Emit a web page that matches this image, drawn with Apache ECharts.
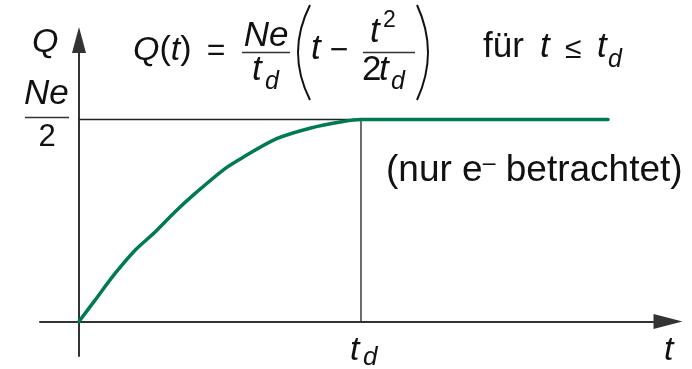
<!DOCTYPE html>
<html>
<head>
<meta charset="utf-8">
<title>Q(t)</title>
<script src="https://cdn.jsdelivr.net/npm/echarts@6/dist/echarts.min.js"></script>
<style>
  html, body { margin: 0; padding: 0; background: #fff; }
  #chart { width: 692px; height: 369px; }
</style>
</head>
<body>
<div id="chart"></div>
<script>
// Q(t) in units of Ne/2, t in units of t_d
const tValues = [0, 0.057, 0.128, 0.199, 0.270, 0.340, 0.411, 0.518, 0.583, 0.701, 0.819, 0.937, 1, 1.876];
const qValues = [0, 0.106, 0.238, 0.353, 0.443, 0.542, 0.633, 0.757, 0.814, 0.905, 0.957, 0.990, 1, 1];
// guide lines: Ne/2 level to t_d, then down to the t axis
const guideT = [0, 1, 1];
const guideQ = [1, 1, 0];

const FONT = '"Liberation Sans", Arial, sans-serif';
const INK = "#111";

// y is the baseline; zrender "middle" sits ~0.35em above it
function txt(x, base, text, size, italic, align = "left") {
  return {
    type: "text", x, y: base - 0.35 * size, silent: true,
    style: {
      text, fill: INK, textAlign: align, textVerticalAlign: "middle",
      font: (italic ? "italic " : "") + size + "px " + FONT,
    },
  };
}
function bar(x1, x2, y, w = 1.5) {
  return { type: "line", silent: true, shape: { x1, y1: y, x2, y2: y }, style: { stroke: "#333", lineWidth: w } };
}
function paren(x, cx) {
  return {
    type: "bezierCurve", silent: true,
    shape: { x1: x, y1: 5, x2: x, y2: 100, cpx1: cx, cpy1: 52.5 },
    style: { stroke: INK, lineWidth: 2, fill: null },
  };
}

const chart = echarts.init(document.getElementById("chart"), null, { renderer: "canvas" });

chart.setOption({
  animation: false,
  backgroundColor: "#fff",
  grid: { left: 40, right: 24, top: 40, bottom: 13 },
  xAxis: {
    type: "value", min: -0.1383, max: 2.0887,
    axisLine: { onZero: true, symbol: ["none", "triangle"], symbolSize: [15, 29], lineStyle: { color: "#333", width: 2 } },
    axisTick: { show: false }, axisLabel: { show: false }, splitLine: { show: false },
  },
  yAxis: {
    type: "value", min: -0.1708, max: 1.3936,
    axisLine: { onZero: true, symbol: ["none", "triangle"], symbolSize: [14, 26], lineStyle: { color: "#333", width: 2 } },
    axisTick: { show: false }, axisLabel: { show: false }, splitLine: { show: false },
  },
  series: [
    {
      type: "line", name: "guide", silent: true, symbol: "none", z: 2,
      data: guideT.map((t, i) => [t, guideQ[i]]),
      lineStyle: { color: "#222", width: 1.3 },
    },
    {
      type: "line", name: "Q", silent: true, symbol: "none", z: 3,
      smooth: 0.3,
      data: tValues.map((t, i) => [t, qValues[i]]),
      lineStyle: { color: "#007a55", width: 3.5, cap: "round", join: "round" },
    },
  ],
  graphic: {
    elements: [
      // axis names
      txt(32, 54, "Q", 34, true),
      txt(664, 362, "t", 34, true),
      txt(350, 362, "t", 34, true),
      txt(363, 367, "d", 26, true),
      // Ne / 2 on the Q axis
      txt(24, 107, "Ne", 35, true),
      bar(25, 69, 117.5),
      txt(47, 148, "2", 31, false, "center"),
      // formula
      {
        type: "text", x: 133, y: 62 - 0.35 * 34, silent: true,
        style: {
          text: "{i|Q}({i|t})", fill: INK, textVerticalAlign: "middle",
          font: "34px " + FONT,
          rich: { i: { font: "italic 34px " + FONT, fill: INK } },
        },
      },
      txt(216, 62, "=", 32, false, "center"),
      txt(266, 49, "Ne", 35, true, "center"),
      bar(242, 290, 52.5),
      txt(252, 83, "t", 35, true),
      txt(265, 91, "d", 25, true),
      paren(310, 286),
      txt(311, 62, "t", 35, true),
      txt(339, 62, "\u2212", 32, false, "center"),
      txt(370, 45, "t", 35, true),
      txt(383, 29, "2", 23, false),
      bar(363, 415, 52.5),
      txt(362, 83, "2", 35, false),
      txt(379, 83, "t", 35, true),
      txt(391, 91, "d", 25, true),
      paren(417, 439),
      txt(483, 60, "für", 35, false),
      txt(540, 60, "t", 35, true),
      txt(565, 60, "\u2264", 30, false),
      txt(597, 60, "t", 35, true),
      txt(608, 69, "d", 25, true),
      // note
      {
        type: "text", x: 386, y: 184 - 0.35 * 37, silent: true,
        style: {
          text: "(nur e{s|\u2013} betrachtet)", fill: INK, textVerticalAlign: "middle",
          font: "37px " + FONT,
          rich: { s: { font: "23px " + FONT, fill: INK, verticalAlign: "top" } },
        },
      },
    ],
  },
});
</script>
</body>
</html>
